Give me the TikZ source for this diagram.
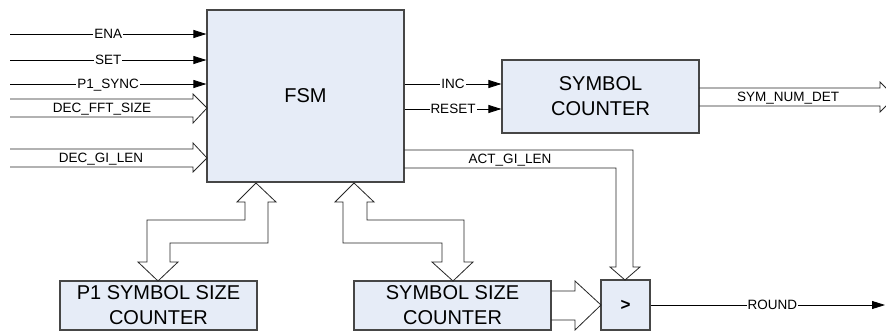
\documentclass[tikz,border=0pt]{standalone}
\usepackage{fontspec}
\setmainfont{Liberation Sans}
\usetikzlibrary{arrows.meta}
\definecolor{boxfill}{RGB}{230,236,247}
\definecolor{boxline}{RGB}{70,70,70}
\tikzset{
  block/.style={draw=boxline, fill=boxfill, line width=1.2pt, inner sep=0pt, align=center, font=\fontsize{20}{25}\selectfont},
  sig/.style={-{Triangle[length=13pt,width=8pt]}, line width=0.8pt},
  siglabel/.style={fill=white, inner sep=1pt, text height=9.7pt, text depth=0pt, font=\fontsize{13.5}{16}\selectfont},
  buslabel/.style={inner sep=0pt, text height=9.7pt, text depth=0pt, font=\fontsize{13.5}{16}\selectfont},
  bus/.style={line width=0.8pt, draw=black!85, line join=miter},
}
\begin{document}
\begin{tikzpicture}[x=1pt, y=-1pt]
\clip (0,0) rectangle (886,332);
\fill[white] (0,0) rectangle (886,332);
% blocks
\node[block, minimum width=197, minimum height=172] (fsm) at (305.5,96) {FSM};
\node[block, minimum width=197, minimum height=73] (symcnt) at (600.5,96.5) {SYMBOL\\COUNTER};
\node[block, minimum width=197, minimum height=49] (p1cnt) at (158.5,305.5) {P1 SYMBOL SIZE\\COUNTER};
\node[block, minimum width=197, minimum height=49] (szcnt) at (452.5,305.5) {SYMBOL SIZE\\COUNTER};
\node[block, minimum width=49, minimum height=50, font=\fontsize{17}{20}\selectfont\bfseries] (cmp) at (625.5,305) {>};
% single inputs
\coordinate (enain) at (10,34);
\coordinate (setin) at (10,60);
\coordinate (syncin) at (10,84);
\draw[sig] (enain) -- (enain -| fsm.west) node[siglabel, midway] (enalbl) {ENA};
\draw[sig] (setin) -- (setin -| fsm.west) node[siglabel, midway] (setlbl) {SET};
\draw[sig] (syncin) -- (syncin -| fsm.west) node[siglabel, midway] (synclbl) {P1\_SYNC};
% fsm to symbol counter
\coordinate (incend) at ([yshift=12.5pt]symcnt.west);
\coordinate (rstend) at ([yshift=-12.5pt]symcnt.west);
\draw[sig] (fsm.east |- incend) -- (incend) node[siglabel, midway] (inclbl) {INC};
\draw[sig] (fsm.east |- rstend) -- (rstend) node[siglabel, midway] (rstlbl) {RESET};
% round output
\coordinate (roundout) at (885,305);
\draw[sig] (cmp.east) -- (roundout) node[siglabel, pos=0.52] (roundlbl) {ROUND};
% input buses
\draw[bus] (10,99) -- (193,99) -- (193,94) -- (207,108) -- (193,123) -- (193,117) -- (10,117);
\draw[bus] (10,149) -- (193,149) -- (193,143) -- (207,158) -- (193,172) -- (193,167) -- (10,167);
\node[buslabel] (fftlbl) at (102,108) {DEC\_FFT\_SIZE};
\node[buslabel] (gilbl) at (101,158) {DEC\_GI\_LEN};
% output buses
\draw[bus] (699,88) -- (880,88) -- (880,82) -- (895,97) -- (880,112) -- (880,106) -- (699,106);
\node[buslabel] (symlbl) at (788,97) {SYM\_NUM\_DET};
\draw[bus] (404,150) -- (633,150) -- (633,267) -- (640,267) -- (625,280) -- (610,267) -- (616,267) -- (616,168) -- (404,168);
\node[buslabel] (actlbl) at (510,159) {ACT\_GI\_LEN};
\draw[bus] (551,291) -- (575,291) -- (575,281) -- (601,305) -- (575,330) -- (575,320) -- (551,320);
% two way buses
\draw[bus] (147,262) -- (138,262) -- (158,281) -- (178,262) -- (170,262) -- (170,243) -- (268,243) -- (268,202) -- (276,202) -- (256,183) -- (237,202) -- (245,202) -- (245,220) -- (147,220) -- cycle;
\draw[bus] (343,202) -- (335,202) -- (354,183) -- (374,202) -- (367,202) -- (367,220) -- (464,220) -- (464,262) -- (473,262) -- (453,281) -- (432,262) -- (442,262) -- (442,243) -- (343,243) -- cycle;
\end{tikzpicture}
\end{document}
